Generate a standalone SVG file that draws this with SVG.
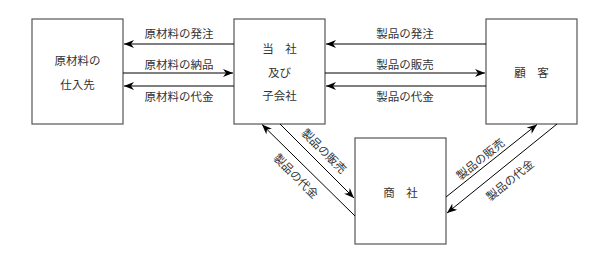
<svg xmlns="http://www.w3.org/2000/svg" width="609" height="262" viewBox="0 0 609 262">
<defs>
<marker id="ah" viewBox="0 0 10 8" refX="10" refY="4" markerWidth="10" markerHeight="8" markerUnits="userSpaceOnUse" orient="auto">
<path d="M0,0 L10,4 L0,8 L3,4 Z" fill="#000"/>
</marker>
<style>
.box{fill:#fff;stroke:#555;stroke-width:1.2}
.t{font-family:"Noto Sans CJK JP","Noto Sans CJK SC",sans-serif;font-size:11.5px;fill:#333;text-anchor:middle}
.c{stroke:#000;stroke-width:1;fill:none;marker-end:url(#ah)}
</style>
</defs>
<rect width="609" height="262" fill="#fff"/>
<g id="supplier">
<rect class="box" x="32" y="19" width="91" height="105"/>
<text class="t" x="77.5" y="65">原材料の</text>
<text class="t" x="77.5" y="89">仕入先</text>
</g>
<g id="company">
<rect class="box" x="234" y="19" width="91" height="105"/>
<text class="t" x="279.5" y="53" xml:space="preserve">当　社</text>
<text class="t" x="279.5" y="77">及び</text>
<text class="t" x="279.5" y="100">子会社</text>
</g>
<g id="customer">
<rect class="box" x="486" y="19" width="91" height="105"/>
<text class="t" x="531.5" y="77" xml:space="preserve">顧　客</text>
</g>
<g id="trader">
<rect class="box" x="355" y="138" width="91" height="106"/>
<text class="t" x="400.5" y="197" xml:space="preserve">商　社</text>
</g>
<g id="connectors">
<line class="c" x1="234" y1="44" x2="124" y2="44"/>
<line class="c" x1="123" y1="73" x2="233" y2="73"/>
<line class="c" x1="234" y1="86" x2="124" y2="86"/>
<line class="c" x1="486" y1="44" x2="326" y2="44"/>
<line class="c" x1="325" y1="73" x2="485" y2="73"/>
<line class="c" x1="486" y1="86" x2="326" y2="86"/>
<line class="c" x1="355" y1="216" x2="262" y2="124.5"/>
<line class="c" x1="280" y1="124" x2="354" y2="198"/>
<line class="c" x1="446" y1="197" x2="537" y2="124.5"/>
<line class="c" x1="557" y1="124" x2="447" y2="213"/>
</g>
<g id="labels">
<text class="t" x="179" y="38">原材料の発注</text>
<text class="t" x="179" y="69">原材料の納品</text>
<text class="t" x="179" y="101">原材料の代金</text>
<text class="t" x="405" y="38">製品の発注</text>
<text class="t" x="405" y="69">製品の販売</text>
<text class="t" x="405" y="101">製品の代金</text>
<text class="t" dominant-baseline="central" transform="translate(324.5,150.5) rotate(45)">製品の販売</text>
<text class="t" dominant-baseline="central" transform="translate(296.5,175.5) rotate(45)">製品の代金</text>
<text class="t" dominant-baseline="central" transform="translate(479.8,158.5) rotate(-38.7)">製品の販売</text>
<text class="t" dominant-baseline="central" transform="translate(509.5,179.5) rotate(-38.7)">製品の代金</text>
</g>
</svg>
